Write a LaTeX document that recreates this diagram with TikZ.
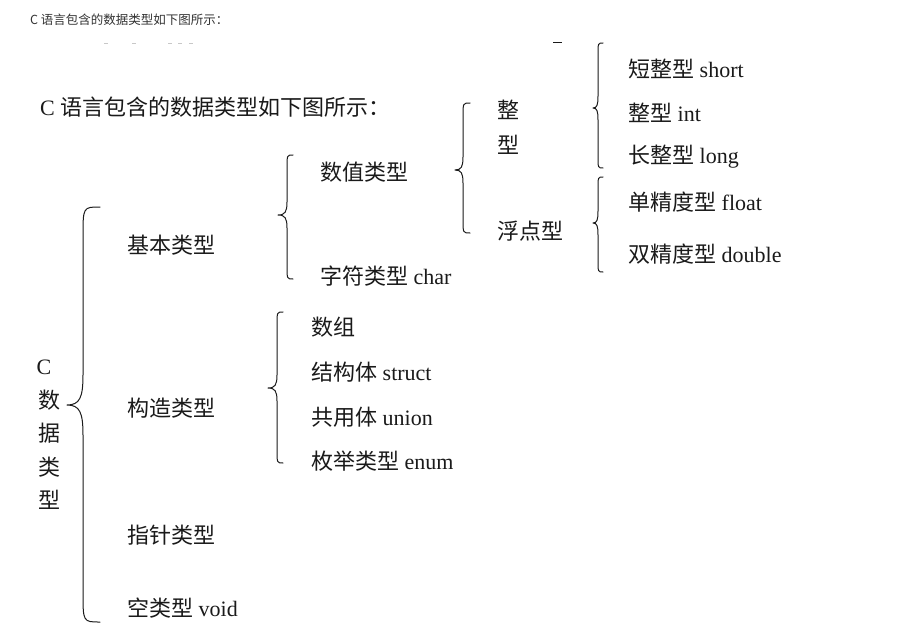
\documentclass[tikz,border=0pt]{standalone}
\usepackage{fontspec}
\setmainfont{Liberation Serif}
\newfontfamily\cjk{Noto Sans CJK SC}
\definecolor{ink}{HTML}{1A1A1A}
\definecolor{hdr}{HTML}{333333}
\definecolor{faint}{HTML}{C8C8C8}
\newcommand\cbr[7]{%
  \draw[bracestyle] (#3,#4) .. controls (#2,#4) .. (#2,{#4+#7})
    -- (#2,{#5-#7}) .. controls (#2,{#5-0.25*#7}) and ({#2-0.2*(#2-#1)},#5) .. (#1,#5)
    .. controls ({#2-0.2*(#2-#1)},#5) and (#2,{#5+0.25*#7}) .. (#2,{#5+#7})
    -- (#2,{#6-#7}) .. controls (#2,#6) .. (#3,#6);}
\begin{document}
\begin{tikzpicture}[x=1pt,y=-1pt,
  bracestyle/.style={draw=ink,line width=1pt,line cap=round,line join=round},
  lbl/.style={anchor=west,inner sep=0pt,text=ink,font=\fontsize{22}{24}\selectfont},
  hd/.style={anchor=west,inner sep=0pt,text=hdr,font=\fontsize{12.5}{14}\selectfont\cjk}]
\useasboundingbox[fill=white] (0,0) rectangle (905,642);
% header
\node[hd] (hdr) at (30,20) {C 语言包含的数据类型如下图所示：};
% faint remnants
\foreach \xx in {104,132,168,178,189}{\draw[faint,line width=1pt] (\xx,44) -- (\xx+4,44);}
\draw[ink,line width=1pt] (553,42.5) -- (562,42.5);
% title
\node[lbl] (title) at (40,107) {C {\cjk 语言包含的数据类型如下图所示：}};
% root
\node[lbl,anchor=center] (c0) at (44,367) {C};
\node[lbl,anchor=center] (c1) at (49,400) {\cjk 数};
\node[lbl,anchor=center] (c2) at (49,433) {\cjk 据};
\node[lbl,anchor=center] (c3) at (49,467) {\cjk 类};
\node[lbl,anchor=center] (c4) at (49,500) {\cjk 型};
% level 1
\node[lbl] (basic) at (127,245) {\cjk 基本类型};
\node[lbl] (cons) at (127,408) {\cjk 构造类型};
\node[lbl] (ptr) at (127,535) {\cjk 指针类型};
\node[lbl] (void) at (127,608) {{\cjk 空类型} void};
% level 2
\node[lbl] (num) at (320,172) {\cjk 数值类型};
\node[lbl] (chr) at (320,276) {{\cjk 字符类型} char};
\node[lbl] (arr) at (311,327) {\cjk 数组};
\node[lbl] (str) at (311,372) {{\cjk 结构体} struct};
\node[lbl] (uni) at (311,417) {{\cjk 共用体} union};
\node[lbl] (enm) at (311,461) {{\cjk 枚举类型} enum};
% level 3
\node[lbl] (int1) at (497,110) {\cjk 整};
\node[lbl] (int2) at (497,145) {\cjk 型};
\node[lbl] (flt) at (497,231) {\cjk 浮点型};
% level 4
\node[lbl] (sh) at (628,69) {{\cjk 短整型} short};
\node[lbl] (in) at (628,113) {{\cjk 整型} int};
\node[lbl] (lo) at (628,157) {{\cjk 长整型} long};
\node[lbl] (fl) at (628,202) {{\cjk 单精度型} float};
\node[lbl] (db) at (628,254) {{\cjk 双精度型} double};
% braces
\cbr{67}{83}{100}{207}{405}{622}{30}
\cbr{278}{287}{293}{155}{215}{279}{13}
\cbr{268}{277}{283}{312}{388}{463}{13}
\cbr{455}{463}{470}{103}{170}{233}{13}
\cbr{593}{598}{603}{43}{108}{168}{12}
\cbr{593}{598}{603}{177}{223}{272}{12}
\end{tikzpicture}
\end{document}
